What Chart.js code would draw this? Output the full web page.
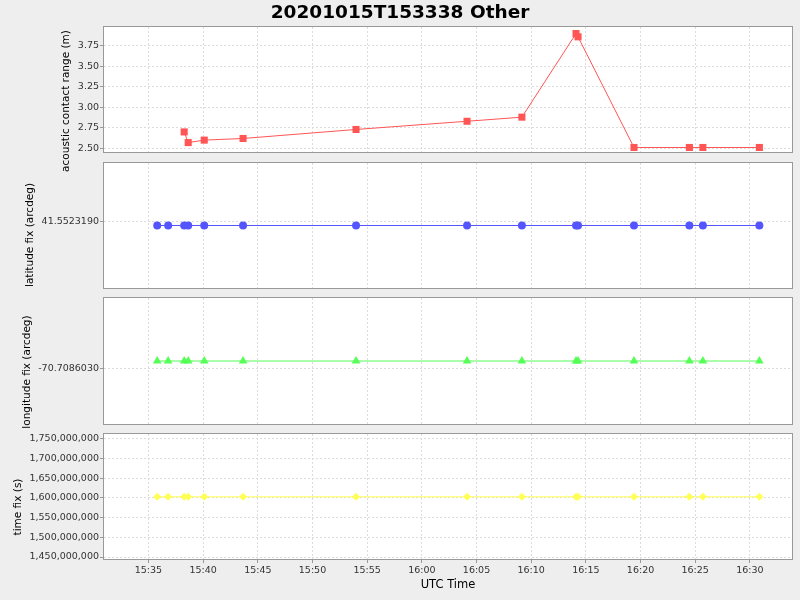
<!DOCTYPE html>
<html>
<head>
<meta charset="utf-8">
<script src="https://cdn.jsdelivr.net/npm/chart.js@4.4.1/dist/chart.umd.min.js"></script>
<style>
  body { margin: 0; background: #eeeeee; }
  #wrap { position: relative; width: 800px; height: 600px; }
  canvas { position: absolute; left: 0; top: 0; }
</style>
</head>
<body>
<div id="wrap">
  <canvas id="c1" width="800" height="600"></canvas>
  <canvas id="c2" width="800" height="600"></canvas>
  <canvas id="c3" width="800" height="600"></canvas>
  <canvas id="c4" width="800" height="600"></canvas>
</div>
<script>
// fix times (UTC) shared by latitude, longitude and time fix plots
const fixTimes = ["15:35:48", "15:36:48", "15:38:16", "15:38:38", "15:40:06", "15:43:39", "15:53:59",
  "16:04:08", "16:09:09", "16:14:06", "16:14:17", "16:19:24", "16:24:28", "16:25:42", "16:30:52"];
// acoustic contact range readings
const rangeTimes = ["15:38:16", "15:38:38", "15:40:06", "15:43:39", "15:53:59", "16:04:08", "16:09:09",
  "16:14:06", "16:14:17", "16:19:24", "16:24:28", "16:25:42", "16:30:52"];
const contactRange = [2.70, 2.57, 2.60, 2.62, 2.73, 2.83, 2.88, 3.90, 3.86, 2.51, 2.51, 2.51, 2.51];
const latitudeFix = [41.55231895, 41.55231895, 41.55231895, 41.55231895, 41.55231895, 41.55231895, 41.55231895,
  41.55231895, 41.55231895, 41.55231895, 41.55231895, 41.55231895, 41.55231895, 41.55231895, 41.55231895];
const longitudeFix = [-70.70860295, -70.70860295, -70.70860295, -70.70860295, -70.70860295, -70.70860295, -70.70860295,
  -70.70860295, -70.70860295, -70.70860295, -70.70860295, -70.70860295, -70.70860295, -70.70860295, -70.70860295];
const timeFix = [1602776148, 1602776208, 1602776296, 1602776318, 1602776406, 1602776619, 1602777239,
  1602777848, 1602778149, 1602778446, 1602778457, 1602778764, 1602779068, 1602779142, 1602779452];

// tick labels
const timeTicks = ["15:35", "15:40", "15:45", "15:50", "15:55", "16:00", "16:05", "16:10", "16:15", "16:20", "16:25", "16:30"];
const rangeTicks = [2.50, 2.75, 3.00, 3.25, 3.50, 3.75];
const latTicks = [41.5523190];
const lonTicks = [-70.7086030];
const timeFixTicks = [1450000000, 1500000000, 1550000000, 1600000000, 1650000000, 1700000000, 1750000000];

function toSec(s) {
  const p = s.split(":").map(Number);
  return p[0] * 3600 + p[1] * 60 + (p[2] || 0);
}
function fmtTime(v) {
  const h = Math.floor(v / 3600);
  const m = Math.round((v % 3600) / 60);
  return h + ":" + String(m).padStart(2, "0");
}

Chart.defaults.font.family = "'DejaVu Sans', sans-serif";
Chart.defaults.animation = false;

const gridColor = "#dcdcdc";
const xMin = toSec("15:30:56");
const xMax = toSec("16:33:51");

const framePlugin = {
  id: "frame",
  beforeDraw(chart) {
    const a = chart.chartArea, ctx = chart.ctx;
    ctx.save();
    ctx.fillStyle = "#ffffff";
    ctx.fillRect(a.left, a.top, a.right - a.left, a.bottom - a.top);
    ctx.restore();
  },
  afterDraw(chart, args, opts) {
    const a = chart.chartArea, ctx = chart.ctx;
    ctx.save();
    ctx.strokeStyle = "#999999";
    ctx.lineWidth = 1;
    ctx.strokeRect(Math.round(a.left) - 0.5, Math.round(a.top) - 0.5,
      Math.round(a.right - a.left) + 1, Math.round(a.bottom - a.top) + 1);
    ctx.translate(opts.x, opts.y);
    ctx.rotate(-Math.PI / 2);
    ctx.font = "10.5px 'DejaVu Sans', sans-serif";
    ctx.fillStyle = "#000000";
    ctx.textAlign = "center";
    ctx.textBaseline = "middle";
    ctx.fillText(opts.label, 0, 0);
    ctx.restore();
  }
};

function makeChart(id, cfg) {
  const xs = cfg.times.map(toSec);
  const points = cfg.values.map((v, i) => ({ x: xs[i], y: v }));
  const bottomAxis = !!cfg.showX;
  return new Chart(document.getElementById(id), {
    type: "line",
    data: {
      datasets: [{
        data: points,
        borderColor: cfg.color,
        backgroundColor: cfg.color,
        borderWidth: 1,
        pointStyle: cfg.shape,
        pointRadius: cfg.radius,
        pointBorderWidth: 0,
        pointBackgroundColor: cfg.color,
        tension: 0
      }]
    },
    options: {
      responsive: false,
      layout: { padding: { top: cfg.top, bottom: cfg.bottom, left: 8, right: 8 } },
      plugins: {
        legend: { display: false },
        tooltip: { enabled: false },
        title: cfg.title ? {
          display: true,
          text: cfg.title,
          color: "#000000",
          font: { size: 18.5, weight: "bold" },
          padding: { top: 1.8, bottom: 3 }
        } : { display: false },
        frame: { label: cfg.label, x: cfg.labelX, y: cfg.labelY }
      },
      scales: {
        x: {
          type: "linear",
          min: xMin,
          max: xMax,
          afterBuildTicks: s => { s.ticks = timeTicks.map(t => ({ value: toSec(t) })); },
          afterFit: s => { s.height = bottomAxis ? 41 : 0; },
          grid: { color: gridColor, drawTicks: bottomAxis, tickLength: 4, tickColor: "#999999" },
          border: { display: false, dash: [2, 2] },
          ticks: {
            display: bottomAxis,
            maxRotation: 0,
            autoSkip: false,
            padding: 2,
            color: "#333333",
            font: { size: 9.5 },
            callback: v => fmtTime(v)
          },
          title: {
            display: bottomAxis,
            text: "UTC Time",
            color: "#000000",
            font: { size: 11.5 },
            padding: { top: 0, bottom: 8 }
          }
        },
        y: {
          type: "linear",
          min: cfg.min,
          max: cfg.max,
          afterBuildTicks: s => { s.ticks = cfg.ticks.map(v => ({ value: v })); },
          afterFit: s => { s.width = 96; },
          grid: { color: gridColor, drawTicks: true, tickLength: 4, tickColor: "#999999" },
          border: { display: false, dash: [2, 2] },
          ticks: {
            autoSkip: false,
            padding: 1,
            color: "#333333",
            font: { size: 9.5 },
            callback: cfg.fmt
          }
        }
      }
    },
    plugins: [framePlugin]
  });
}

makeChart("c1", {
  times: rangeTimes, values: contactRange, color: "#ff5555", shape: "rect", radius: 5,
  title: "20201015T153338 Other", top: 0, bottom: 448,
  min: 2.455, max: 3.98, ticks: rangeTicks, fmt: v => v.toFixed(2),
  label: "acoustic contact range (m)", labelX: 66, labelY: 101
});
makeChart("c2", {
  times: fixTimes, values: latitudeFix, color: "#5555ff", shape: "circle", radius: 4,
  top: 163, bottom: 312,
  min: 41.55231815, max: 41.55231975, ticks: latTicks, fmt: v => v.toFixed(7),
  label: "latitude fix (arcdeg)", labelX: 30, labelY: 235
});
makeChart("c3", {
  times: fixTimes, values: longitudeFix, color: "#55ff55", shape: "triangle", radius: 5,
  top: 298, bottom: 176,
  min: -70.70860335, max: -70.70860255, ticks: lonTicks, fmt: v => v.toFixed(7),
  label: "longitude fix (arcdeg)", labelX: 27, labelY: 372
});
makeChart("c4", {
  times: fixTimes, values: timeFix, color: "#ffff55", shape: "rectRot", radius: 4, showX: true,
  top: 434, bottom: 0,
  min: 1445000000, max: 1762000000, ticks: timeFixTicks, fmt: v => v.toLocaleString("en-US"),
  label: "time fix (s)", labelX: 18, labelY: 507
});
</script>
</body>
</html>
